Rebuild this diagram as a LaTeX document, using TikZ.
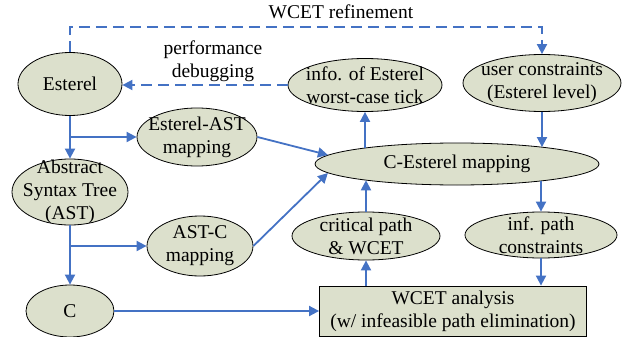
\documentclass[tikz,border=0pt]{standalone}
\usepackage{fontspec}
\setmainfont{Liberation Serif}
\usetikzlibrary{shapes.geometric,arrows.meta}
\definecolor{ellfill}{RGB}{220,224,204}
\definecolor{lineblue}{RGB}{68,114,196}
\begin{document}
\begin{tikzpicture}[x=1pt,y=-1pt,
  ell/.style={ellipse,draw=black,line width=0.8pt,fill=ellfill,inner sep=0pt},
  txt/.style={align=center,font=\fontsize{19.5}{23}\selectfont,inner sep=0pt},
  arr/.style={draw=lineblue,line width=1.8pt,-{Triangle[length=10pt,width=10pt]}},
  darr/.style={arr,dash pattern=on 11pt off 6pt}]
\useasboundingbox (0,0) rectangle (624,337);
% nodes
\node[ell,minimum width=104pt,minimum height=63pt] (est) at (70,84) {};
\node[txt] at (est) {Esterel};
\node[ell,minimum width=120pt,minimum height=58pt] (esa) at (197,137) {};
\node[txt] at (esa) {Esterel-AST\\mapping};
\node[ell,minimum width=116pt,minimum height=66pt] (ast) at (70,192) {};
\node[txt] at (ast) {Abstract\\Syntax Tree\\(AST)};
\node[ell,minimum width=106pt,minimum height=60pt] (astc) at (200,246) {};
\node[txt] at (astc) {AST-C\\mapping};
\node[ell,minimum width=88pt,minimum height=52pt] (c) at (70,311) {};
\node[txt] at (c) {C};
\node[ell,minimum width=154pt,minimum height=53pt] (info) at (365,85) {};
\node[txt] at (info) {info. of Esterel\\worst-case tick};
\node[ell,minimum width=158pt,minimum height=57pt] (uc) at (542,83) {};
\node[txt] at (uc) {user constraints\\(Esterel level)};
\node[ell,minimum width=284pt,minimum height=42pt] (ce) at (457,164) {};
\node[txt] at (ce) {C-Esterel mapping};
\node[ell,minimum width=148pt,minimum height=48pt] (cp) at (366,236) {};
\node[txt] at (cp) {critical path\\\& WCET};
\node[ell,minimum width=152pt,minimum height=46pt] (ip) at (541,235) {};
\node[txt] at (ip) {inf. path\\constraints};
\node[draw=black,line width=0.8pt,fill=ellfill,minimum width=267pt,minimum height=50pt,inner sep=0pt] (wcet) at (453,311) {};
\node[txt] at (wcet) {WCET analysis\\(w/ infeasible path elimination)};
% labels
\node[txt] (lref) at (341,12) {WCET refinement};
\node[txt] (lperf) at (213,61) {performance\\debugging};
\coordinate (topc) at (300,27);
% connectors
\draw[arr] (est.south) -- (ast.north);
\draw[arr] (est.south |- esa.west) -- (esa.west);
\draw[arr] (ast.south) -- (c.north);
\draw[arr] (ast.south |- astc.west) -- (astc.west);
\draw[arr] (esa.east) -- (ce.176);
\draw[arr] (astc.east) -- (ce.184);
\draw[arr] (c.east) -- (c.east -| wcet.west);
\draw[arr] (cp.south |- wcet.north) -- (cp.south);
\draw[arr] (cp.north) -- (cp.north |- ce.190);
\draw[arr] (info.south |- ce.170) -- (info.south);
\draw[arr] (uc.south) -- (uc.south |- ce.11);
\draw[arr] (ip.north |- ce.-11) -- (ip.north);
\draw[arr] (ip.south) -- (ip.south |- wcet.north);
\draw[darr] (est.north) |- (topc) -| (uc.north);
\draw[darr] (info.west) -- (info.west -| est.east);
\end{tikzpicture}
\end{document}
